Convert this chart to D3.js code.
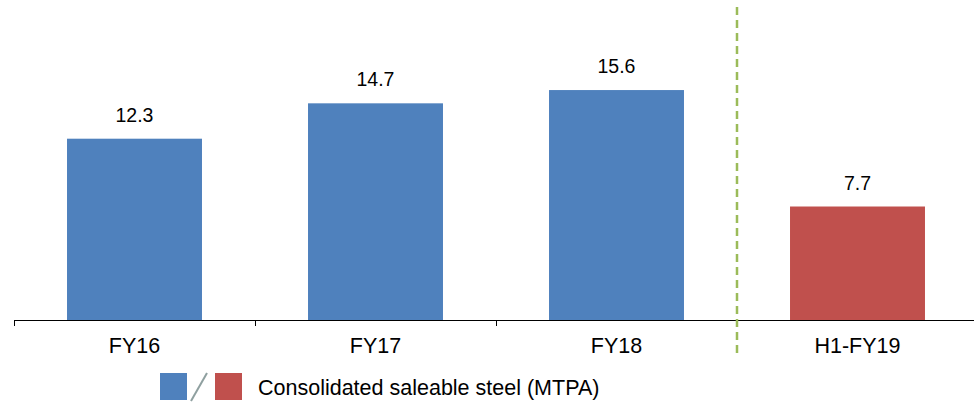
<!DOCTYPE html>
<html>
<head>
<meta charset="utf-8">
<script src="https://cdn.jsdelivr.net/npm/d3@7/dist/d3.min.js"></script>
<style>
  html, body { margin: 0; padding: 0; background: #fff; }
  svg { display: block; font-family: "Liberation Sans", Arial, sans-serif; }
</style>
</head>
<body>
<svg id="chart" width="974" height="403"></svg>
<script>
const categories = ["FY16", "FY17", "FY18", "H1-FY19"];
const values = [12.3, 14.7, 15.6, 7.7];
const barColors = ["#4F81BD", "#4F81BD", "#4F81BD", "#C0504D"];
const legendLabel = "Consolidated saleable steel (MTPA)";

const svg = d3.select("#chart");
const baseY = 320;

const x = d3.scaleBand().domain(categories).range([14, 978]).paddingInner(0.44).paddingOuter(0.22);
const y = d3.scaleLinear().domain([0, 20]).range([baseY, baseY - 20 * 14.74]);

// bars
svg.selectAll("rect.bar").data(values).enter().append("rect")
  .attr("class", "bar")
  .attr("x", (d, i) => x(categories[i]))
  .attr("width", x.bandwidth())
  .attr("y", d => y(d))
  .attr("height", d => baseY - y(d))
  .attr("fill", (d, i) => barColors[i]);

// value labels
svg.selectAll("text.val").data(values).enter().append("text")
  .attr("class", "val")
  .attr("x", (d, i) => x(categories[i]) + x.bandwidth() / 2)
  .attr("y", d => y(d) - 17)
  .attr("text-anchor", "middle")
  .attr("font-size", 19.5)
  .attr("fill", "#000")
  .text(d => d.toFixed(1));

// axis
const step = x.step();
const start = x.range()[0];
const boundaries = d3.range(categories.length + 1).map(i => start + i * step);
svg.append("line")
  .attr("x1", start).attr("x2", 974)
  .attr("y1", baseY + 0.5).attr("y2", baseY + 0.5)
  .attr("stroke", "#000").attr("stroke-width", 1);
svg.selectAll("line.tick").data(boundaries).enter().append("line")
  .attr("class", "tick")
  .attr("x1", d => Math.round(d) + 0.5).attr("x2", d => Math.round(d) + 0.5)
  .attr("y1", baseY).attr("y2", baseY + 6)
  .attr("stroke", "#000").attr("stroke-width", 1);

// category labels
svg.selectAll("text.cat").data(categories).enter().append("text")
  .attr("class", "cat")
  .attr("x", d => x(d) + x.bandwidth() / 2)
  .attr("y", 353)
  .attr("text-anchor", "middle")
  .attr("font-size", 21.5)
  .attr("fill", "#000")
  .text(d => d);

// dashed separator between FY18 and H1-FY19
const sepX = start + 3 * step;
svg.append("line")
  .attr("x1", sepX).attr("x2", sepX)
  .attr("y1", 7).attr("y2", 353)
  .attr("stroke", "#9BBB59").attr("stroke-width", 2.5)
  .attr("stroke-dasharray", "8,5");

// legend
const lg = svg.append("g");
lg.append("rect").attr("x", 160).attr("y", 373).attr("width", 27).attr("height", 27).attr("fill", barColors[0]);
lg.append("line").attr("x1", 191).attr("y1", 401).attr("x2", 207).attr("y2", 373)
  .attr("stroke", "#8FA0A0").attr("stroke-width", 2);
lg.append("rect").attr("x", 215).attr("y", 373).attr("width", 27).attr("height", 27).attr("fill", barColors[3]);
lg.append("text").attr("x", 258).attr("y", 395).attr("font-size", 21.5).attr("fill", "#000").text(legendLabel);
</script>
</body>
</html>
